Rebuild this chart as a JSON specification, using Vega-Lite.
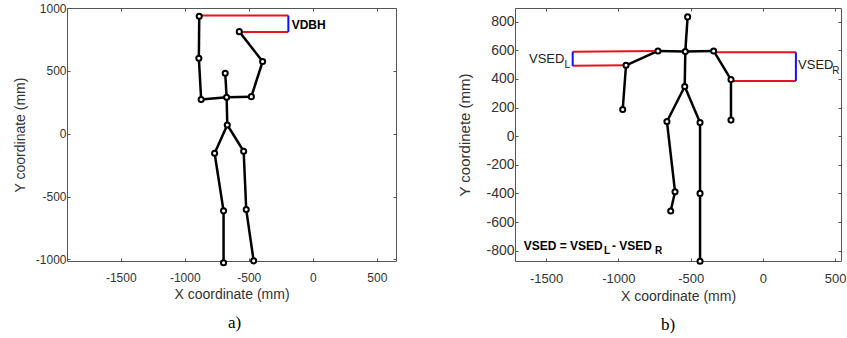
{
  "$schema": "https://vega.github.io/schema/vega-lite/v6.json",
  "padding": {"left": 12, "top": 1, "right": 0, "bottom": 0},
  "background": "white",
  "config": {
    "view": {"stroke": "#555", "strokeWidth": 1},
    "font": "Liberation Sans",
    "axis": {"grid": false, "domain": false, "tickColor": "#555", "tickSize": -3, "labelColor": "#333", "titleColor": "#333", "titleFontWeight": "normal", "labelFont": "Liberation Sans", "titleFont": "Liberation Sans", "labelExpr": "'' + datum.value"},
    "concat": {"spacing": 60}
  },
  "datasets": {
    "boneA": [
      {"x": -684, "y": 481, "x2": -673, "y2": 290},
      {"x": -673, "y": 290, "x2": -872, "y2": 272},
      {"x": -872, "y": 272, "x2": -890, "y2": 600},
      {"x": -890, "y": 600, "x2": -887, "y2": 934},
      {"x": -673, "y": 290, "x2": -480, "y2": 295},
      {"x": -480, "y": 295, "x2": -392, "y2": 574},
      {"x": -392, "y": 574, "x2": -574, "y2": 812},
      {"x": -673, "y": 290, "x2": -668, "y2": 70},
      {"x": -668, "y": 70, "x2": -767, "y2": -155},
      {"x": -767, "y": -155, "x2": -697, "y2": -613},
      {"x": -697, "y": -613, "x2": -697, "y2": -1026},
      {"x": -668, "y": 70, "x2": -540, "y2": -139},
      {"x": -540, "y": -139, "x2": -520, "y2": -603},
      {"x": -520, "y": -603, "x2": -462, "y2": -1011}
    ],
    "jointA": [
      {"x": -684, "y": 481}, {"x": -673, "y": 290}, {"x": -872, "y": 272}, {"x": -890, "y": 600},
      {"x": -887, "y": 934}, {"x": -480, "y": 295}, {"x": -392, "y": 574}, {"x": -574, "y": 812},
      {"x": -668, "y": 70}, {"x": -767, "y": -155}, {"x": -697, "y": -613}, {"x": -697, "y": -1026},
      {"x": -540, "y": -139}, {"x": -520, "y": -603}, {"x": -462, "y": -1011}
    ],
    "redA": [
      {"x": -887, "y": 940, "x2": -191, "y2": 940},
      {"x": -574, "y": 810, "x2": -191, "y2": 810}
    ],
    "blueA": [
      {"x": -191, "y": 810, "x2": -191, "y2": 940}
    ],
    "textA": [
      {"x": -165, "y": 867, "label": "VDBH"}
    ],
    "boneB": [
      {"x": -521, "y": 833, "x2": -537, "y2": 591},
      {"x": -537, "y": 591, "x2": -726, "y2": 595},
      {"x": -726, "y": 595, "x2": -947, "y2": 495},
      {"x": -947, "y": 495, "x2": -970, "y2": 186},
      {"x": -537, "y": 591, "x2": -341, "y2": 595},
      {"x": -341, "y": 595, "x2": -221, "y2": 395},
      {"x": -221, "y": 395, "x2": -221, "y2": 112},
      {"x": -537, "y": 591, "x2": -541, "y2": 347},
      {"x": -541, "y": 347, "x2": -664, "y2": 102},
      {"x": -664, "y": 102, "x2": -608, "y2": -388},
      {"x": -608, "y": -388, "x2": -638, "y2": -523},
      {"x": -541, "y": 347, "x2": -435, "y2": 95},
      {"x": -435, "y": 95, "x2": -435, "y2": -400},
      {"x": -435, "y": -400, "x2": -435, "y2": -874}
    ],
    "jointB": [
      {"x": -521, "y": 833}, {"x": -537, "y": 591}, {"x": -726, "y": 595}, {"x": -947, "y": 495},
      {"x": -970, "y": 186}, {"x": -341, "y": 595}, {"x": -221, "y": 395}, {"x": -221, "y": 112},
      {"x": -541, "y": 347}, {"x": -664, "y": 102}, {"x": -608, "y": -388}, {"x": -638, "y": -523},
      {"x": -435, "y": 95}, {"x": -435, "y": -400}, {"x": -435, "y": -874}
    ],
    "redB": [
      {"x": -1316, "y": 590, "x2": -726, "y2": 595},
      {"x": -1316, "y": 491, "x2": -947, "y2": 495},
      {"x": -341, "y": 586, "x2": 228, "y2": 586},
      {"x": -221, "y": 386, "x2": 228, "y2": 386}
    ],
    "blueB": [
      {"x": -1316, "y": 491, "x2": -1316, "y2": 590},
      {"x": 228, "y": 386, "x2": 228, "y2": 586}
    ],
    "mainTextB": [
      {"x": -1618, "y": 540, "label": "VSED"},
      {"x": 243, "y": 500, "label": "VSED"}
    ],
    "subTextB": [
      {"x": -1372, "y": 500, "label": "L"},
      {"x": 480, "y": 455, "label": "R"}
    ],
    "formulaB": [
      {"x": -1655, "y": -767, "label": "VSED = VSED"},
      {"x": -1044, "y": -767, "label": "- VSED"}
    ],
    "formulaSubB": [
      {"x": -1099, "y": -800, "label": "L"},
      {"x": -747, "y": -800, "label": "R"}
    ]
  },
  "hconcat": [
    {
      "width": 329,
      "height": 253,
      "title": {"text": "a)", "orient": "bottom", "font": "Liberation Serif", "fontSize": 17, "fontWeight": "normal", "color": "#000", "anchor": "middle", "frame": "group", "offset": 14, "dx": 3},
      "resolve": {"axis": {"x": "independent", "y": "independent"}},
      "layer": [
        {
          "data": {"name": "boneA"},
          "mark": {"type": "rule", "color": "#000", "strokeWidth": 2.5},
          "encoding": {
            "x": {"field": "x", "type": "quantitative", "scale": {"domain": [-1920, 650], "nice": false, "zero": false}, "axis": {"orient": "bottom", "values": [-1500, -1000, -500, 0, 500], "title": "X coordinate (mm)", "labelFontSize": 12, "titleFontSize": 14, "labelPadding": 14, "titlePadding": 4}},
            "y": {"field": "y", "type": "quantitative", "scale": {"domain": [-1012, 1000], "nice": false, "zero": false}, "axis": {"orient": "left", "values": [-1000, -500, 0, 500, 1000], "title": "Y coordinate (mm)", "labelFontSize": 12, "titleFontSize": 14, "labelPadding": 4, "titlePadding": 8}},
            "x2": {"field": "x2"},
            "y2": {"field": "y2"}
          }
        },
        {
          "data": {"name": "redA"},
          "mark": {"type": "rule", "color": "#e3141c", "strokeWidth": 2},
          "encoding": {
            "x": {"field": "x", "type": "quantitative", "axis": {"orient": "top", "values": [-1500, -1000, -500, 0, 500], "labels": false, "title": null}},
            "y": {"field": "y", "type": "quantitative", "axis": {"orient": "right", "values": [-1000, -500, 0, 500, 1000], "labels": false, "title": null}},
            "x2": {"field": "x2"},
            "y2": {"field": "y2"}
          }
        },
        {
          "data": {"name": "blueA"},
          "mark": {"type": "rule", "color": "#1010ff", "strokeWidth": 2},
          "encoding": {
            "x": {"field": "x", "type": "quantitative", "axis": null},
            "y": {"field": "y", "type": "quantitative", "axis": null},
            "x2": {"field": "x2"},
            "y2": {"field": "y2"}
          }
        },
        {
          "data": {"name": "jointA"},
          "mark": {"type": "point", "shape": "circle", "size": 26, "stroke": "#000", "strokeWidth": 2, "fill": "#fff", "filled": false, "fillOpacity": 1, "opacity": 1},
          "encoding": {
            "x": {"field": "x", "type": "quantitative", "axis": null},
            "y": {"field": "y", "type": "quantitative", "axis": null}
          }
        },
        {
          "data": {"name": "textA"},
          "mark": {"type": "text", "align": "left", "baseline": "middle", "fontSize": 12, "fontWeight": "bold", "color": "#000"},
          "encoding": {
            "x": {"field": "x", "type": "quantitative", "axis": null},
            "y": {"field": "y", "type": "quantitative", "axis": null},
            "text": {"field": "label"}
          }
        }
      ]
    },
    {
      "width": 326,
      "height": 253,
      "title": {"text": "b)", "orient": "bottom", "font": "Liberation Serif", "fontSize": 17, "fontWeight": "normal", "color": "#000", "anchor": "middle", "frame": "group", "offset": 14, "dx": -10},
      "resolve": {"axis": {"x": "independent", "y": "independent"}},
      "layer": [
        {
          "data": {"name": "boneB"},
          "mark": {"type": "rule", "color": "#000", "strokeWidth": 2.5},
          "encoding": {
            "x": {"field": "x", "type": "quantitative", "scale": {"domain": [-1715, 540], "nice": false, "zero": false}, "axis": {"orient": "bottom", "values": [-1500, -1000, -500, 0, 500], "title": "X coordinate (mm)", "labelFontSize": 13, "titleFontSize": 14, "labelPadding": 14, "titlePadding": 4}},
            "y": {"field": "y", "type": "quantitative", "scale": {"domain": [-872, 895], "nice": false, "zero": false}, "axis": {"orient": "left", "values": [-800, -600, -400, -200, 0, 200, 400, 600, 800], "title": "Y coordinete (mm)", "labelFontSize": 14, "titleFontSize": 15, "labelPadding": 4, "titlePadding": 13}},
            "x2": {"field": "x2"},
            "y2": {"field": "y2"}
          }
        },
        {
          "data": {"name": "redB"},
          "mark": {"type": "rule", "color": "#e3141c", "strokeWidth": 2},
          "encoding": {
            "x": {"field": "x", "type": "quantitative", "axis": {"orient": "top", "values": [-1500, -1000, -500, 0, 500], "labels": false, "title": null}},
            "y": {"field": "y", "type": "quantitative", "axis": {"orient": "right", "values": [-800, -600, -400, -200, 0, 200, 400, 600, 800], "labels": false, "title": null}},
            "x2": {"field": "x2"},
            "y2": {"field": "y2"}
          }
        },
        {
          "data": {"name": "blueB"},
          "mark": {"type": "rule", "color": "#1010ff", "strokeWidth": 2},
          "encoding": {
            "x": {"field": "x", "type": "quantitative", "axis": null},
            "y": {"field": "y", "type": "quantitative", "axis": null},
            "x2": {"field": "x2"},
            "y2": {"field": "y2"}
          }
        },
        {
          "data": {"name": "jointB"},
          "mark": {"type": "point", "shape": "circle", "size": 26, "stroke": "#000", "strokeWidth": 2, "fill": "#fff", "filled": false, "fillOpacity": 1, "opacity": 1},
          "encoding": {
            "x": {"field": "x", "type": "quantitative", "axis": null},
            "y": {"field": "y", "type": "quantitative", "axis": null}
          }
        },
        {
          "data": {"name": "mainTextB"},
          "mark": {"type": "text", "align": "left", "baseline": "middle", "fontSize": 13, "color": "#222"},
          "encoding": {
            "x": {"field": "x", "type": "quantitative", "axis": null},
            "y": {"field": "y", "type": "quantitative", "axis": null},
            "text": {"field": "label"}
          }
        },
        {
          "data": {"name": "subTextB"},
          "mark": {"type": "text", "align": "left", "baseline": "middle", "fontSize": 10, "color": "#222"},
          "encoding": {
            "x": {"field": "x", "type": "quantitative", "axis": null},
            "y": {"field": "y", "type": "quantitative", "axis": null},
            "text": {"field": "label"}
          }
        },
        {
          "data": {"name": "formulaB"},
          "mark": {"type": "text", "align": "left", "baseline": "middle", "fontSize": 12, "fontWeight": "bold", "color": "#000"},
          "encoding": {
            "x": {"field": "x", "type": "quantitative", "axis": null},
            "y": {"field": "y", "type": "quantitative", "axis": null},
            "text": {"field": "label"}
          }
        },
        {
          "data": {"name": "formulaSubB"},
          "mark": {"type": "text", "align": "left", "baseline": "middle", "fontSize": 10, "fontWeight": "bold", "color": "#000"},
          "encoding": {
            "x": {"field": "x", "type": "quantitative", "axis": null},
            "y": {"field": "y", "type": "quantitative", "axis": null},
            "text": {"field": "label"}
          }
        }
      ]
    }
  ]
}
